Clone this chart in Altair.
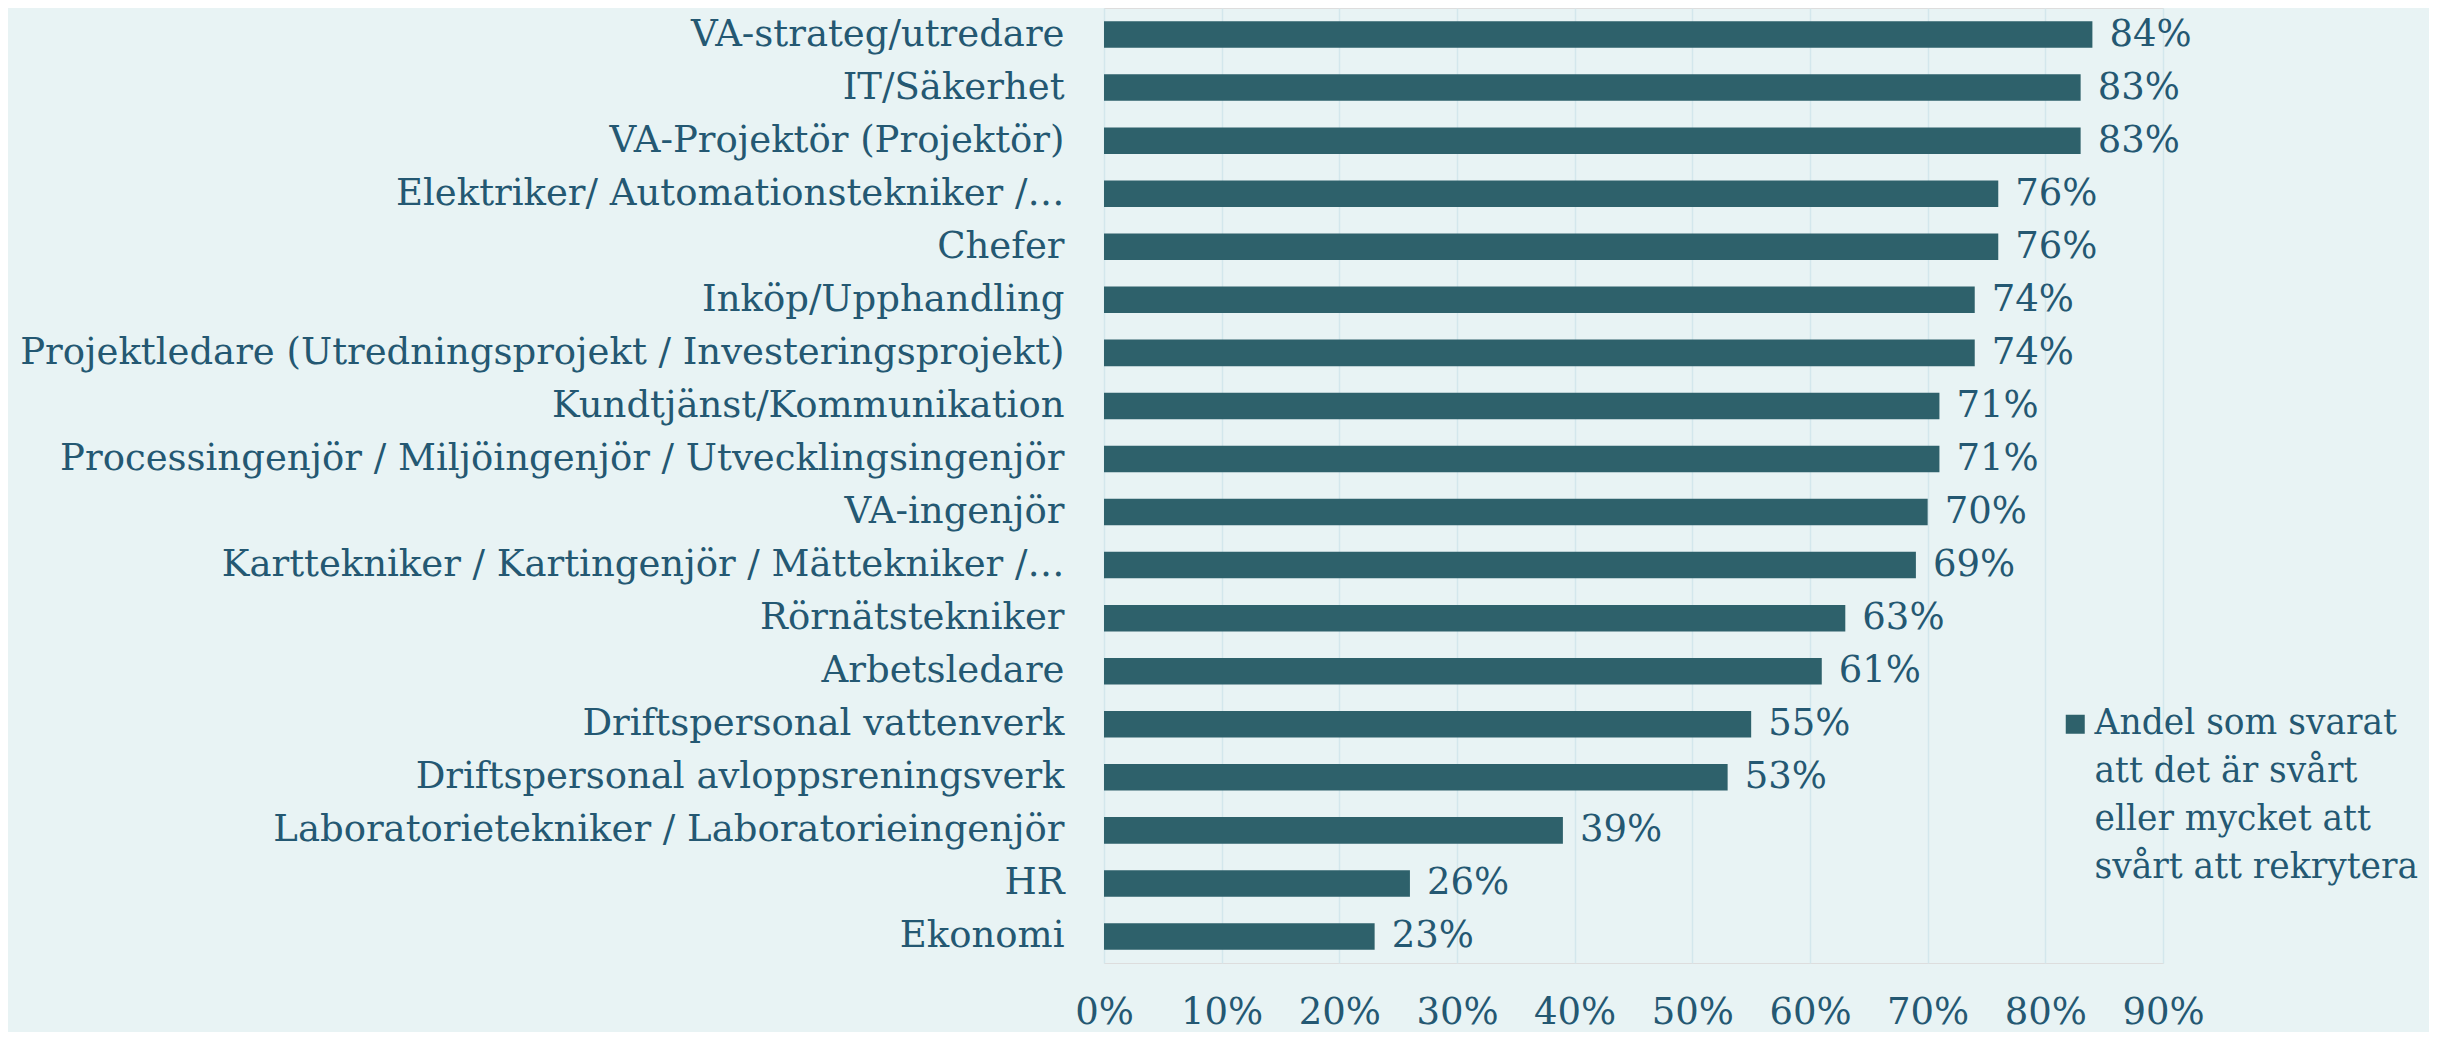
import altair as alt
import pandas as pd

categories = [
    "VA-strateg/utredare",
    "IT/Säkerhet",
    "VA-Projektör (Projektör)",
    "Elektriker/ Automationstekniker /…",
    "Chefer",
    "Inköp/Upphandling",
    "Projektledare (Utredningsprojekt / Investeringsprojekt)",
    "Kundtjänst/Kommunikation",
    "Processingenjör / Miljöingenjör / Utvecklingsingenjör",
    "VA-ingenjör",
    "Karttekniker / Kartingenjör / Mättekniker /…",
    "Rörnätstekniker",
    "Arbetsledare",
    "Driftspersonal vattenverk",
    "Driftspersonal avloppsreningsverk",
    "Laboratorietekniker / Laboratorieingenjör",
    "HR",
    "Ekonomi",
]
values = [0.84, 0.83, 0.83, 0.76, 0.76, 0.74, 0.74, 0.71, 0.71, 0.70,
          0.69, 0.63, 0.61, 0.55, 0.53, 0.39, 0.26, 0.23]
series_name = "Andel som svarat|att det är svårt|eller mycket att|svårt att rekrytera"
x_ticks = [0.0, 0.1, 0.2, 0.3, 0.4, 0.5, 0.6, 0.7, 0.8, 0.9]

df = pd.DataFrame({"kategori": categories, "andel": values, "serie": series_name})

FONT = "DejaVu Serif"
TEXT = "#245872"
BAR = "#2e616b"
BG = "#e8f3f4"
GRID = "#d3e7ec"
FS = 37

y_enc = alt.Y(
    "kategori:N",
    sort=categories,
    scale=alt.Scale(paddingInner=0.5, paddingOuter=0.25),
    axis=alt.Axis(
        title=None, labelFont=FONT, labelFontSize=FS, labelColor=TEXT,
        labelPadding=40, ticks=False, domain=False, grid=False,
        labelLimit=1200, labelBaseline="middle",
    ),
)
x_enc = alt.X(
    "andel:Q",
    scale=alt.Scale(domain=[0, 0.9], nice=False, zero=True),
    axis=alt.Axis(
        title=None, values=x_ticks, format=".0%", labelFont=FONT,
        labelFontSize=FS, labelColor=TEXT, labelPadding=49,
        labelBaseline="middle", labelFlush=False, ticks=False, tickSize=0,
        domain=False, grid=True, gridColor=GRID, gridWidth=1.5,
    ),
)

bars = alt.Chart(df).mark_bar(color=BAR).encode(
    x=x_enc,
    y=y_enc,
    color=alt.Color(
        "serie:N",
        scale=alt.Scale(range=[BAR]),
        legend=alt.Legend(
            title=None, orient="none", legendX=954, legendY=699, padding=0,
            labelExpr="split(datum.label, '|')",
            labelFont=FONT, labelFontSize=34.5, labelColor=TEXT,
            labelLimit=800, labelOffset=2, labelBaseline="middle",
            symbolType="square",
            symbolSize=361, symbolFillColor=BAR, symbolStrokeWidth=0,
            symbolOpacity=1,
        ),
    ),
)

labels = alt.Chart(df).mark_text(
    align="left", baseline="middle", dx=17, font=FONT, fontSize=FS, color=TEXT
).encode(
    x=alt.X("andel:Q"),
    y=alt.Y("kategori:N", sort=categories),
    text=alt.Text("andel:Q", format=".0%"),
)

chart = (
    alt.layer(bars, labels)
    .properties(
        width=1059,
        height=955,
        autosize=alt.AutoSizeParams(type="none"),
        padding={"left": 1096, "top": 0, "right": 266, "bottom": 69},
        background=BG,
    )
    .configure_view(stroke=None)
    .configure(style={"guide-label": {"lineHeight": 48}})
)

chart.save("out.html", embed_options={"renderer": "svg", "actions": False})
